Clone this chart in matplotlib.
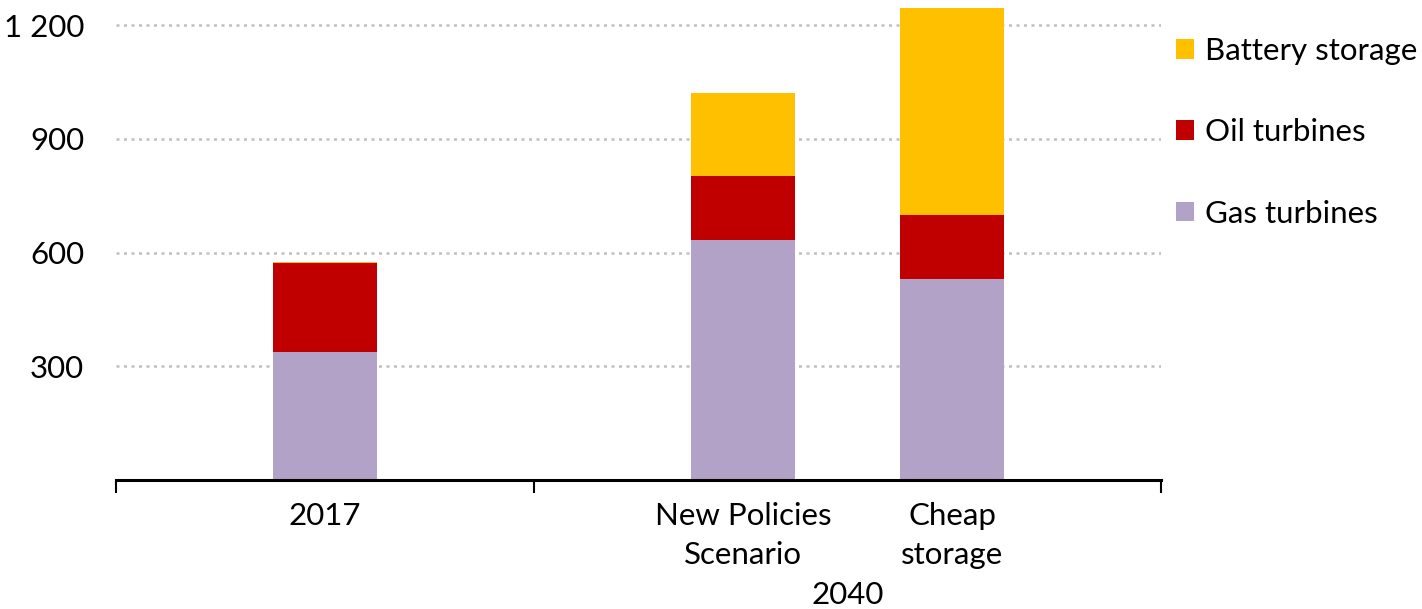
import matplotlib.pyplot as plt

categories = ["2017", "New Policies\nScenario", "Cheap\nstorage"]
gas = [337, 632, 531]
oil = [235, 171, 168]
battery = [3, 218, 546]
group_label = "2040"
y_ticks = [300, 600, 900, 1200]
y_tick_labels = ["300", "600", "900", "1 200"]

plt.rcParams['font.family'] = ['Lato', 'DejaVu Sans']
fs = 22.5

fig = plt.figure(figsize=(14.22, 6.09), dpi=100)
ax = fig.add_axes([0.0816, 0.2118, 0.735, 0.778])

x = [0, 2, 3]
w = 0.5
ax.bar(x, gas, w, color="#B3A2C7", label="Gas turbines", zorder=2)
ax.bar(x, oil, w, bottom=gas, color="#C00000", label="Oil turbines", zorder=2)
bottom2 = [g + o for g, o in zip(gas, oil)]
ax.bar(x, battery, w, bottom=bottom2, color="#FFC000", label="Battery storage", zorder=2)

ax.set_xlim(-1, 4)
ax.set_ylim(0, 1250)

for s in ["top", "right", "left"]:
    ax.spines[s].set_visible(False)
ax.spines["bottom"].set_linewidth(2.2)
ax.spines["bottom"].set_zorder(3)

ax.set_yticks(y_ticks)
ax.set_yticklabels(y_tick_labels, fontsize=fs)
ax.tick_params(axis="y", length=0, pad=23)
ax.yaxis.grid(True, linestyle=(0, (1.2, 1.8)), color="#BFBFBF", linewidth=1.8, zorder=1)

ax.set_xticks([-1, 1, 4])
ax.set_xticklabels(["", "", ""])
ax.tick_params(axis="x", which="major", length=9, width=1.5, direction="out")
ax.set_xticks(x, minor=True)
ax.set_xticklabels(categories, minor=True, fontsize=fs, linespacing=1.45)
ax.tick_params(axis="x", which="minor", length=0, pad=16)

ax.text(2.5, -0.243, group_label, transform=ax.get_xaxis_transform(),
        ha="center", va="center", fontsize=fs)

handles, labels = ax.get_legend_handles_labels()
leg = fig.legend(handles[::-1], labels[::-1], loc="upper left",
                 bbox_to_anchor=(0.807, 0.985), frameon=False, fontsize=fs,
                 handlelength=0.6, handleheight=0.6, handletextpad=0.35,
                 labelspacing=1.7)

fig.savefig("out.png", dpi=100)
